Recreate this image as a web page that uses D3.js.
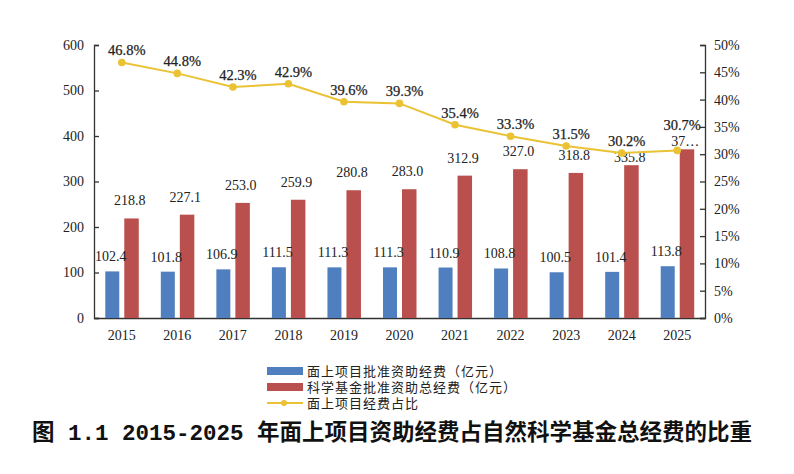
<!DOCTYPE html>
<html>
<head>
<meta charset="utf-8">
<script src="https://cdn.jsdelivr.net/npm/d3@7"></script>
<style>
  body { margin: 0; background: #ffffff; }
</style>
</head>
<body>
<script>
// data
var years = ['2015', '2016', '2017', '2018', '2019', '2020', '2021', '2022', '2023', '2024', '2025'];
var projectFunds = [102.4, 101.8, 106.9, 111.5, 111.3, 111.3, 110.9, 108.8, 100.5, 101.4, 113.8];
var totalFunds = [218.8, 227.1, 253.0, 259.9, 280.8, 283.0, 312.9, 327.0, 318.8, 335.8, 370.7];
var shares = [46.8, 44.8, 42.3, 42.9, 39.6, 39.3, 35.4, 33.3, 31.5, 30.2, 30.7];
var leftTicks = [0, 100, 200, 300, 400, 500, 600];
var rightTicks = [0, 5, 10, 15, 20, 25, 30, 35, 40, 45, 50];
var legendNames = ['面上项目批准资助经费（亿元）', '科学基金批准资助总经费（亿元）', '面上项目经费占比'];

var blue = '#4f7fbe', red = '#b9504e', gold = '#eac234';
var serif = '"Liberation Serif", "Times New Roman", serif';
var cjk = '"Noto Sans CJK SC", sans-serif';

var svg = d3.select('body')
  .append('svg')
  .attr('width', 794)
  .attr('height', 474);

var plotL = 94, plotR = 705, plotT = 45, plotB = 318;

var x = d3.scaleBand().domain(years).range([plotL, plotR]);
var y = d3.scaleLinear().domain([0, 600]).range([plotB, plotT]);
var y2 = d3.scaleLinear().domain([0, 50]).range([plotB, plotT]);

var last = years.length - 1;

var rows = years.map(function(yr, i) {
  var r = { year: yr, a: projectFunds[i], b: totalFunds[i], p: shares[i], i: i };
  // label baselines; the line labels and red labels get nudged where they collide
  r.pY = y2(r.p) - 7;
  r.bY = y(r.b) - 13;
  if (r.bY - r.pY < 16) {
    r.bY = y(r.b) - 3;
    if (i === last) r.pY = y2(r.p) - 20;
  }
  return r;
});
function cx(d) { return x(d.year) + x.bandwidth() / 2; }

// axes
var axL = svg.append('g')
  .attr('transform', 'translate(' + plotL + ',0)')
  .call(d3.axisLeft(y).tickValues(leftTicks).tickSize(-5).tickPadding(10));
var axR = svg.append('g')
  .attr('transform', 'translate(' + plotR + ',0)')
  .call(d3.axisRight(y2).tickValues(rightTicks).tickSize(-5).tickPadding(9)
    .tickFormat(function(d) { return d + '%'; }));
var axB = svg.append('g')
  .attr('transform', 'translate(0,' + plotB + ')')
  .call(d3.axisBottom(x).tickSize(0).tickPadding(12));

[axL, axR, axB].forEach(function(g) {
  g.selectAll('path, line').attr('stroke', '#333').attr('stroke-width', 1.3);
  g.selectAll('text')
    .attr('font-family', serif)
    .attr('font-size', 14)
    .attr('fill', '#222');
});

// bars
svg.selectAll('rect.a')
  .data(rows)
  .enter()
  .append('rect')
  .attr('class', 'a')
  .attr('x', function(d) { return cx(d) - 16.5; })
  .attr('width', 14)
  .attr('y', function(d) { return y(d.a); })
  .attr('height', function(d) { return plotB - y(d.a); })
  .attr('fill', blue);

svg.selectAll('rect.b')
  .data(rows)
  .enter()
  .append('rect')
  .attr('class', 'b')
  .attr('x', function(d) { return cx(d) + 2.5; })
  .attr('width', 14.5)
  .attr('y', function(d) { return y(d.b); })
  .attr('height', function(d) { return plotB - y(d.b); })
  .attr('fill', red);

// bar labels
svg.selectAll('text.la')
  .data(rows)
  .enter()
  .append('text')
  .attr('x', function(d) { return cx(d) - 11; })
  .attr('y', function(d) { return y(d.a) - 10; })
  .attr('text-anchor', 'middle')
  .attr('font-family', serif)
  .attr('font-size', 14)
  .attr('fill', '#222')
  .text(function(d) { return d.a.toFixed(1); });

svg.selectAll('text.lb')
  .data(rows)
  .enter()
  .append('text')
  .attr('x', function(d) { return cx(d) + 8; })
  .attr('y', function(d) { return d.bY; })
  .attr('text-anchor', 'middle')
  .attr('font-family', serif)
  .attr('font-size', 14)
  .attr('fill', '#222')
  .text(function(d) {
    var s = d.b.toFixed(1);
    // the last label is cut short in the original
    return d.i === last ? s.slice(0, 2) + '…' : s;
  });

// share line
var line = d3.line()
  .x(cx)
  .y(function(d) { return y2(d.p); });

svg.append('path')
  .datum(rows)
  .attr('d', line)
  .attr('fill', 'none')
  .attr('stroke', gold)
  .attr('stroke-width', 2);

svg.selectAll('circle.p')
  .data(rows)
  .enter()
  .append('circle')
  .attr('cx', cx)
  .attr('cy', function(d) { return y2(d.p); })
  .attr('r', 3.8)
  .attr('fill', gold);

svg.selectAll('text.lp')
  .data(rows)
  .enter()
  .append('text')
  .attr('x', function(d) { return cx(d) + 5; })
  .attr('y', function(d) { return d.pY; })
  .attr('text-anchor', 'middle')
  .attr('font-family', serif)
  .attr('font-size', 14.5)
  .attr('stroke', '#222')
  .attr('stroke-width', 0.25)
  .attr('fill', '#222')
  .text(function(d) { return d.p.toFixed(1) + '%'; });

// legend
var legend = svg.selectAll('g.leg')
  .data(legendNames)
  .enter()
  .append('g')
  .attr('transform', function(d, i) { return 'translate(267,' + (371 + i * 16) + ')'; });

legend.each(function(d, i) {
  var g = d3.select(this);
  if (i < 2) {
    g.append('rect')
      .attr('x', 0).attr('y', -4)
      .attr('width', 36).attr('height', 8)
      .attr('fill', i === 0 ? blue : red);
  } else {
    g.append('line')
      .attr('x1', 0).attr('x2', 36)
      .attr('stroke', gold).attr('stroke-width', 2);
    g.append('circle')
      .attr('cx', 17).attr('r', 3)
      .attr('fill', gold);
  }
  g.append('text')
    .attr('x', 40)
    .attr('dy', '0.36em')
    .attr('font-family', cjk)
    .attr('font-size', 13)
    .attr('letter-spacing', 1)
    .attr('fill', '#222')
    .text(d);
});

// caption
var cap = svg.append('text')
  .attr('x', 32)
  .attr('y', 440)
  .attr('font-family', cjk)
  .attr('font-size', 22.5)
  .attr('font-weight', 'bold')
  .attr('fill', '#111');
cap.append('tspan').text('图');
cap.append('tspan')
  .attr('font-family', '"Liberation Mono", monospace')
  .attr('xml:space', 'preserve')
  .style('white-space', 'pre')
  .text(' 1.1 2015-2025 ');
cap.append('tspan').text('年面上项目资助经费占自然科学基金总经费的比重');
</script>
</body>
</html>
